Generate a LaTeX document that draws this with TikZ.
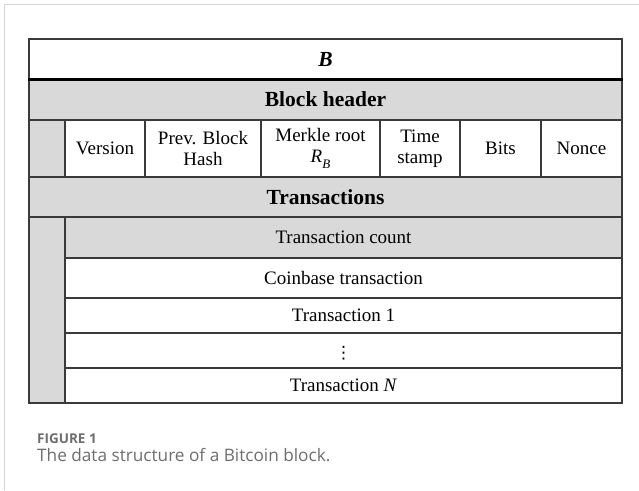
\documentclass[tikz,border=0pt]{standalone}
\usepackage{fontspec}
\setmainfont{Liberation Serif}
\newfontfamily\capfont{Open Sans}
\newfontfamily\symfont{DejaVu Sans}
\definecolor{cellgray}{HTML}{D9D9D9}
\definecolor{linegray}{HTML}{3A3A3A}
\definecolor{framegray}{HTML}{D6D6D6}
\definecolor{capgray}{HTML}{6E6E6E}
\begin{document}
\begin{tikzpicture}[x=1pt,y=-1pt,
  cellbox/.style={draw=linegray,line width=1.4pt,inner sep=0pt,align=center,
    font=\fontsize{19}{21}\selectfont,text=black},
  whitecell/.style={cellbox,fill=white},
  graycell/.style={cellbox,fill=cellgray},
  headcell/.style={font=\fontsize{21.5}{24}\selectfont\bfseries}
]
\useasboundingbox (0,0) rectangle (639,490);
\fill[white] (0,0) rectangle (639,490);
% figure frame
\draw[framegray,line width=1.5pt] (4.5,490) -- (4.5,4.5) -- (639,4.5);

% title row
\node[whitecell,headcell,minimum width=593pt,minimum height=40pt] (b) at (325.5,59) {\textit{B}};
\node[graycell,headcell,minimum width=593pt,minimum height=41pt] (bh) at (325.5,99.5) {Block header};
% header fields
\node[graycell,minimum width=36pt,minimum height=57pt] (hstub) at (47,148.5) {};
\node[whitecell,minimum width=80pt,minimum height=57pt] (ver) at (105,148.5) {Version};
\node[whitecell,minimum width=116pt,minimum height=57pt] (prev) at (203,148.5) {Prev. Block\\Hash};
\node[whitecell,minimum width=119pt,minimum height=57pt] (merkle) at (320.5,148.5) {Merkle root\\\textit{R}\raisebox{-0.28em}{\fontsize{13}{13}\selectfont\textit{B}}};
\node[whitecell,minimum width=80pt,minimum height=57pt] (time) at (420,148.5) {Time\\stamp};
\node[whitecell,minimum width=81pt,minimum height=57pt] (bits) at (500.5,148.5) {Bits};
\node[whitecell,minimum width=81pt,minimum height=57pt] (nonce) at (581.5,148.5) {Nonce};
% transactions
\node[graycell,headcell,minimum width=593pt,minimum height=40pt] (tx) at (325.5,197) {Transactions};
\node[graycell,minimum width=36pt,minimum height=186pt] (tstub) at (47,310) {};
\node[graycell,minimum width=557pt,minimum height=41pt] (tcount) at (343.5,237.5) {Transaction count};
\node[whitecell,minimum width=557pt,minimum height=40pt] (coinbase) at (343.5,278) {Coinbase transaction};
\node[whitecell,minimum width=557pt,minimum height=35pt] (tx1) at (343.5,315.5) {Transaction 1};
\node[whitecell,minimum width=557pt,minimum height=35pt] (dots) at (343.5,350.5) {};
\node[inner sep=0pt,font=\symfont\fontsize{17}{19}\selectfont] (dotsym) at (343.5,353) {⋮};
\node[whitecell,minimum width=557pt,minimum height=35pt] (txn) at (343.5,385.5) {Transaction \textit{N}};
% thick line under title
\draw[black,line width=2.6pt] (b.south west) -- (b.south east);

% caption
\node[anchor=base west,inner sep=0pt,text=capgray,font=\capfont\fontsize{13.5}{15}\selectfont\bfseries] (figlbl) at (37,443) {FIGURE 1};
\node[anchor=base west,inner sep=0pt,text=capgray,font=\capfont\fontsize{17.2}{19}\selectfont] (figcap) at (37,461) {The data structure of a Bitcoin block.};
\end{tikzpicture}
\end{document}
